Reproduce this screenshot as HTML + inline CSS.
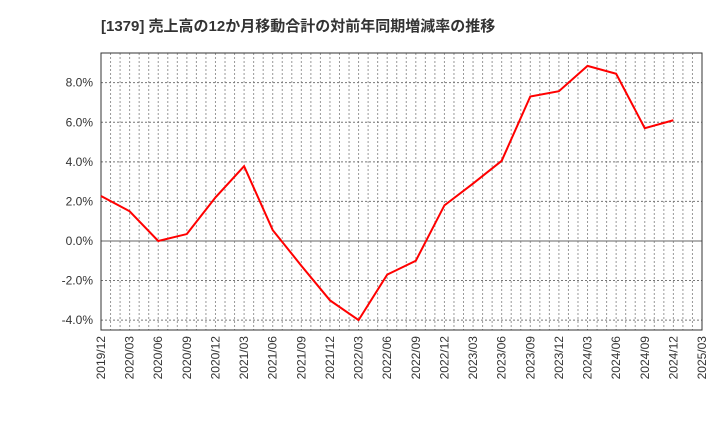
<!DOCTYPE html>
<html><head><meta charset="utf-8"><style>
body{margin:0;background:#fff;}
svg text{font-family:"Liberation Sans","Noto Sans CJK JP",sans-serif;}
</style></head><body>
<svg id="chart" width="720" height="440">
<text x="101" y="31" font-size="15" font-weight="bold" fill="#333">[1379]  売上高の12か月移動合計の対前年同期増減率の推移</text>
<g id="grid"></g><g id="axes"></g><g id="series"></g>
</svg>
<script>
const categories=["2019/12","2020/03","2020/06","2020/09","2020/12","2021/03","2021/06","2021/09","2021/12","2022/03","2022/06","2022/09","2022/12","2023/03","2023/06","2023/09","2023/12","2024/03","2024/06","2024/09","2024/12"];
const xTickLabels=["2019/12","2020/03","2020/06","2020/09","2020/12","2021/03","2021/06","2021/09","2021/12","2022/03","2022/06","2022/09","2022/12","2023/03","2023/06","2023/09","2023/12","2024/03","2024/06","2024/09","2024/12","2025/03"];
const values=[2.27,1.5,0.0,0.35,2.2,3.78,0.55,-1.25,-3.0,-4.0,-1.7,-1.0,1.8,2.9,4.05,7.3,7.57,8.85,8.45,5.7,6.1];
const yTicks=[-4,-2,0,2,4,6,8];
const L=101,R=702,T=53,B=330,yMin=-4.5,yMax=9.5,nQ=21;
const NS="http://www.w3.org/2000/svg";
const xPos=i=>L+(R-L)*i/nQ;
const yPos=v=>T+(yMax-v)/(yMax-yMin)*(B-T);
function mk(tag,attrs,parent){const e=document.createElementNS(NS,tag);for(const k in attrs)e.setAttribute(k,attrs[k]);document.getElementById(parent).appendChild(e);return e;}
for(let m=1;m<nQ*3;m++){const x=L+(R-L)*m/(nQ*3);
const g=mk("line",{x1:x,x2:x,y1:T,y2:B,stroke:"#999","stroke-dasharray":"2,2","stroke-width":1},"grid");

}
yTicks.forEach(v=>{const y=yPos(v);
const g=mk("line",{x1:L,x2:R,y1:y,y2:y,stroke:v===0?"#666":"#777","stroke-dasharray":v===0?"none":"2,2","stroke-width":1},"grid");


const t=mk("text",{x:L-8,y:y+4,"text-anchor":"end","font-size":12,fill:"#333"},"axes");t.textContent=v.toFixed(1)+"%";

});
xTickLabels.forEach((s,i)=>{const x=xPos(i);
const t=mk("text",{x:x+4,y:B+6,"text-anchor":"end","font-size":12,fill:"#333",transform:`rotate(-90 ${x+4} ${B+6})`},"axes");t.textContent=s;

});
const fr=mk("rect",{x:L,y:T,width:R-L,height:B-T,fill:"none",stroke:"#333","stroke-width":1},"axes");


const pl=mk("polyline",{points:values.map((v,i)=>xPos(i)+","+yPos(v)).join(" "),fill:"none",stroke:"#f00","stroke-width":2},"series");


</script>
</body></html>
